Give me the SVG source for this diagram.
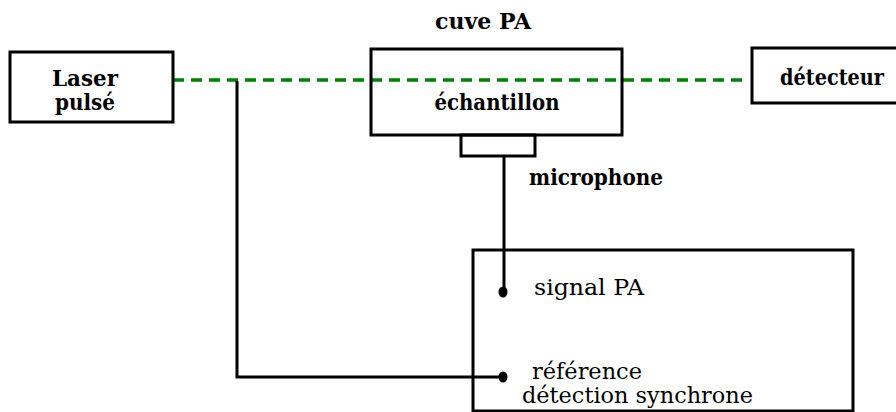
<svg xmlns="http://www.w3.org/2000/svg" width="896" height="412" viewBox="0 0 896 412">
<style>
.box{fill:none;stroke:#000;stroke-width:3}
.wire{fill:none;stroke:#000;stroke-width:3}
.beam{fill:none;stroke:#008000;stroke-width:3.5;stroke-dasharray:11 7}
.b{font-family:'DejaVu Serif','Liberation Serif',serif;font-weight:bold;font-size:22px;fill:#000}
.r{font-family:'DejaVu Serif','Liberation Serif',serif;font-size:22px;fill:#000}
</style>
<rect width="896" height="412" fill="#fff"/>
<g id="connectors">
<line class="beam" x1="173" y1="80" x2="742" y2="80"/>
<polyline class="wire" points="237,81 237,377 503,377"/>
<line class="wire" x1="504" y1="156" x2="504" y2="292"/>
<ellipse cx="503" cy="292" rx="4.5" ry="5.5" fill="#000"/>
<ellipse cx="503" cy="377" rx="4.5" ry="5.5" fill="#000"/>
</g>
<g id="laser">
<rect class="box" x="10" y="52" width="163" height="70"/>
<text class="b" x="85" y="86" text-anchor="middle" font-size="21" textLength="66" lengthAdjust="spacingAndGlyphs">Laser</text>
<text class="b" x="85" y="110" text-anchor="middle" font-size="21" textLength="60" lengthAdjust="spacingAndGlyphs">pulsé</text>
</g>
<g id="cuve">
<text class="b" x="483" y="29" text-anchor="middle" textLength="96" lengthAdjust="spacingAndGlyphs">cuve PA</text>
<rect class="box" x="371" y="49" width="251" height="86"/>
<text class="b" x="497" y="110" text-anchor="middle" textLength="125" lengthAdjust="spacingAndGlyphs">échantillon</text>
</g>
<g id="microphone">
<rect class="box" x="461" y="135" width="74" height="21"/>
<text class="b" x="529" y="185" textLength="134" lengthAdjust="spacingAndGlyphs">microphone</text>
</g>
<g id="detecteur">
<path class="box" d="M896,48 H752 V103 H896"/>
<text class="b" x="780" y="85" font-size="18" textLength="104" lengthAdjust="spacingAndGlyphs">détecteur</text>
</g>
<g id="detection">
<rect class="box" x="473" y="250" width="380" height="161"/>
<text class="r" x="534" y="295" textLength="110" lengthAdjust="spacingAndGlyphs">signal PA</text>
<text class="r" x="532" y="379" font-size="21" textLength="110" lengthAdjust="spacingAndGlyphs">référence</text>
<text class="r" x="522" y="403" font-size="21" textLength="231" lengthAdjust="spacingAndGlyphs">détection synchrone</text>
</g>
</svg>
